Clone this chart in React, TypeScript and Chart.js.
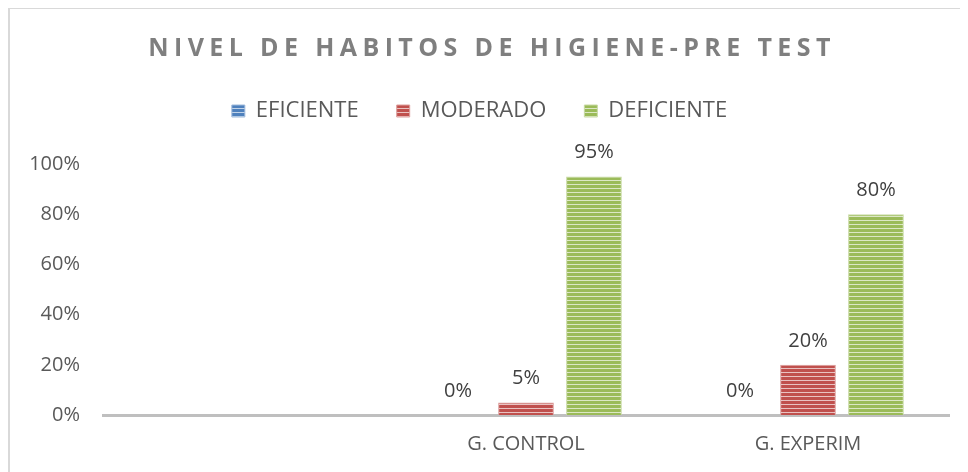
import React, { useEffect, useRef } from "react";
import { Chart, registerables } from "chart.js";

Chart.register(...registerables);

const TITLE = "NIVEL DE HABITOS DE HIGIENE-PRE TEST";
const categories = ["", "G. CONTROL", "G. EXPERIM"];
const seriesNames = ["EFICIENTE", "MODERADO", "DEFICIENTE"];
const eficiente = [null, 0, 0];
const moderado = [null, 5, 20];
const deficiente = [null, 95, 80];
const yTicks = [0, 20, 40, 60, 80, 100];

const COLORS = ["#4F81BD", "#C0504D", "#9BBB59"];
const FONT = '"Open Sans", "DejaVu Sans", sans-serif';

function lighten(hex: string, f: number) {
  const n = parseInt(hex.slice(1), 16);
  const r = (n >> 16) & 255, g = (n >> 8) & 255, b = n & 255;
  const m = (c: number) => Math.round(c + (255 - c) * f);
  return `rgb(${m(r)},${m(g)},${m(b)})`;
}

function stripePattern(color: string): CanvasPattern | string {
  const c = document.createElement("canvas");
  c.width = 4;
  c.height = 4;
  const x = c.getContext("2d");
  if (!x) return color;
  x.fillStyle = color;
  x.fillRect(0, 0, 4, 3);
  x.fillStyle = lighten(color, 0.65);
  x.fillRect(0, 3, 4, 1);
  return x.createPattern(c, "repeat") || color;
}

const titlePlugin = {
  id: "spacedTitle",
  afterDraw(chart: any) {
    const ctx = chart.ctx;
    ctx.save();
    ctx.font = `bold 25px ${FONT}`;
    ctx.fillStyle = "#7F7F7F";
    ctx.textAlign = "center";
    ctx.textBaseline = "middle";
    try { (ctx as any).letterSpacing = "5.4px"; } catch (e) {}
    ctx.fillText(TITLE, chart.width / 2 + 3, 40);
    ctx.restore();
  },
};

const valueLabels = {
  id: "valueLabels",
  afterDatasetsDraw(chart: any) {
    const ctx = chart.ctx;
    ctx.save();
    ctx.font = `20px ${FONT}`;
    ctx.fillStyle = "#404040";
    ctx.textAlign = "center";
    ctx.textBaseline = "middle";
    chart.data.datasets.forEach((ds: any, i: number) => {
      const meta = chart.getDatasetMeta(i);
      meta.data.forEach((el: any, j: number) => {
        const v = ds.data[j];
        if (v === null || v === undefined) return;
        ctx.fillText(`${v}%`, el.x, el.y - 24);
      });
    });
    ctx.restore();
  },
};

export default function App() {
  const ref = useRef<HTMLCanvasElement | null>(null);

  useEffect(() => {
    if (!ref.current) return;
    const series = [eficiente, moderado, deficiente];
    const chart = new Chart(ref.current, {
      type: "bar",
      data: {
        labels: categories,
        datasets: series.map((d, i) => ({
          label: seriesNames[i],
          data: d,
          backgroundColor: stripePattern(COLORS[i]) as any,
          borderColor: lighten(COLORS[i], 0.45),
          borderWidth: 1,
          categoryPercentage: 0.723,
          barPercentage: 0.82,
        })),
      },
      options: {
        animation: false,
        responsive: false,
        maintainAspectRatio: false,
        layout: { padding: { top: 53, right: 19, left: 0, bottom: 0 } },
        plugins: {
          title: { display: false },
          subtitle: {
            display: true,
            text: "",
            weight: 500,
            font: { size: 1, lineHeight: 1 },
            padding: { top: 0, bottom: 31 },
          } as any,
          tooltip: { enabled: false },
          legend: {
            display: true,
            position: "top",
            labels: {
              boxWidth: 13,
              boxHeight: 12,
              padding: 38,
              color: "#595959",
              font: { family: FONT, size: 22 },
            },
          },
        },
        scales: {
          x: {
            grid: { display: false, drawTicks: false },
            border: { display: true, color: "#BFBFBF", width: 3 },
            ticks: {
              color: "#595959",
              font: { family: FONT, size: 20 },
              padding: 17,
            },
            afterFit(scale: any) {
              scale.height = 57;
            },
          },
          y: {
            min: 0,
            max: 100,
            grid: { display: false, drawTicks: false },
            border: { display: false },
            ticks: {
              stepSize: 20,
              color: "#595959",
              font: { family: FONT, size: 20 },
              padding: 23,
              callback: (v: any) => (yTicks.includes(Number(v)) ? `${v}%` : ""),
            },
            afterFit(scale: any) {
              scale.width = 93;
            },
          },
        },
      },
      plugins: [titlePlugin, valueLabels],
    });
    return () => chart.destroy();
  }, []);

  return (
    <div
      style={{
        width: 958,
        height: 463,
        borderTop: "1px solid #D9D9D9",
        borderLeft: "2px solid #D9D9D9",
        background: "#fff",
      }}
    >
      <canvas ref={ref} width={958} height={463} style={{ display: "block" }} />
    </div>
  );
}
